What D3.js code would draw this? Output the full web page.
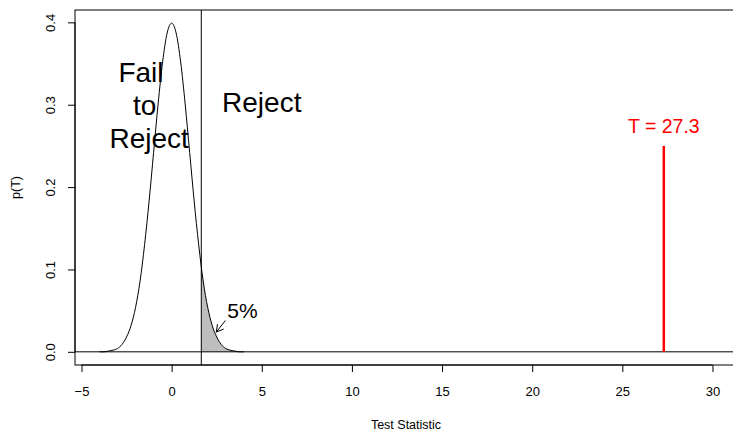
<!DOCTYPE html>
<html>
<head>
<meta charset="utf-8">
<script src="https://cdn.jsdelivr.net/npm/d3@7"></script>
<style>
  body { margin: 0; background: #fff; }
  svg { display: block; font-family: "Liberation Sans", Arial, Helvetica, sans-serif; }
</style>
</head>
<body>
<div id="chart"></div>
<script>
// density of the test statistic under H0
var densX = [-4, -3.75, -3.5, -3.25, -3, -2.75, -2.5, -2.25, -2, -1.75, -1.5, -1.25, -1, -0.75, -0.5, -0.25,
             0, 0.25, 0.5, 0.75, 1, 1.25, 1.5, 1.75, 2, 2.25, 2.5, 2.75, 3, 3.25, 3.5, 3.75, 4];
var densY = [0.000, 0.000, 0.001, 0.002, 0.004, 0.009, 0.018, 0.032, 0.054, 0.086, 0.130, 0.183, 0.242, 0.301, 0.352, 0.387,
             0.399, 0.387, 0.352, 0.301, 0.242, 0.183, 0.130, 0.086, 0.054, 0.032, 0.018, 0.009, 0.004, 0.002, 0.001, 0.000, 0.000];

var critValue = 1.645;     // 5% cut off
var critDensity = 0.103;   // curve height at the cut off
var testStat = 27.3;
var testStatHeight = 0.25;

var xTicks = [-5, 0, 5, 10, 15, 20, 25, 30];
var yTicks = [0, 0.1, 0.2, 0.3, 0.4];

var failLines = ["Fail", "to", "Reject"];
var failLineX = [-1.7, -1.5, -1.25];

var svgWidth = 733, svgHeight = 431;
var plot = { left: 75, top: 10, right: 737, bottom: 365 };

var svg = d3.select("#chart")
  .append("svg")
  .attr("width", svgWidth)
  .attr("height", svgHeight);

var x = d3.scaleLinear().domain([-5.36, 31.36]).range([plot.left, plot.right]);
var y = d3.scaleLinear().domain([-0.016, 0.415]).range([plot.bottom, plot.top]);

svg.append("clipPath").attr("id", "clip")
  .append("rect")
  .attr("x", plot.left).attr("y", plot.top)
  .attr("width", plot.right - plot.left).attr("height", plot.bottom - plot.top);

var g = svg.append("g").attr("clip-path", "url(#clip)");

var pts = densX.map(function(d, i) { return [d, densY[i]]; });

// shaded tail
var tail = [[critValue, critDensity]].concat(pts.filter(function(p) { return p[0] > critValue; }));
var area = d3.area()
  .x(function(d) { return x(d[0]); })
  .y0(y(0))
  .y1(function(d) { return y(d[1]); })
  .curve(d3.curveMonotoneX);

g.append("path")
  .datum(tail)
  .attr("d", area)
  .attr("fill", "#bebebe")
  .attr("stroke", "none");

// horizontal line at 0
g.append("line")
  .attr("x1", plot.left).attr("x2", plot.right)
  .attr("y1", y(0)).attr("y2", y(0))
  .attr("stroke", "#000").attr("stroke-width", 1);

// density curve
var line = d3.line()
  .x(function(d) { return x(d[0]); })
  .y(function(d) { return y(d[1]); })
  .curve(d3.curveMonotoneX);

g.append("path")
  .datum(pts)
  .attr("d", line)
  .attr("fill", "none")
  .attr("stroke", "#000")
  .attr("stroke-width", 1);

// critical value line
g.append("line")
  .attr("x1", x(critValue)).attr("x2", x(critValue))
  .attr("y1", plot.top).attr("y2", plot.bottom)
  .attr("stroke", "#000").attr("stroke-width", 1);

// observed statistic
g.append("line")
  .attr("x1", x(testStat)).attr("x2", x(testStat))
  .attr("y1", y(0)).attr("y2", y(testStatHeight))
  .attr("stroke", "red").attr("stroke-width", 2.5);

svg.append("text")
  .attr("x", x(testStat))
  .attr("y", y(0.266))
  .attr("text-anchor", "middle")
  .attr("fill", "red")
  .style("font-size", "19.5px")
  .text("T = " + testStat);

// region labels
svg.selectAll(".fail")
  .data(failLines)
  .enter().append("text")
  .attr("class", "fail")
  .attr("x", function(d, i) { return x(failLineX[i]); })
  .attr("y", function(d, i) { return y(0.3) + 10 + (i - 1) * 33; })
  .attr("text-anchor", "middle")
  .style("font-size", "28px")
  .text(function(d) { return d; });

svg.append("text")
  .attr("x", x(5))
  .attr("y", y(0.3) + 7)
  .attr("text-anchor", "middle")
  .style("font-size", "28px")
  .text("Reject");

// 5% label and arrow
svg.append("text")
  .attr("x", x(3.93))
  .attr("y", y(0.041))
  .attr("text-anchor", "middle")
  .style("font-size", "21px")
  .text("5%");

var ax0 = x(2.98), ay0 = y(0.038), ax1 = x(2.48), ay1 = y(0.024);
var ang = Math.atan2(ay1 - ay0, ax1 - ax0);
var hl = 8, ha = Math.PI / 6;
svg.append("path")
  .attr("d", "M" + ax0 + "," + ay0 + "L" + ax1 + "," + ay1 +
    "M" + (ax1 - hl * Math.cos(ang - ha)) + "," + (ay1 - hl * Math.sin(ang - ha)) +
    "L" + ax1 + "," + ay1 +
    "L" + (ax1 - hl * Math.cos(ang + ha)) + "," + (ay1 - hl * Math.sin(ang + ha)))
  .attr("fill", "none")
  .attr("stroke", "#000")
  .attr("stroke-width", 1);

// box
svg.append("rect")
  .attr("x", plot.left).attr("y", plot.top)
  .attr("width", plot.right - plot.left).attr("height", plot.bottom - plot.top)
  .attr("fill", "none").attr("stroke", "#000").attr("stroke-width", 1);

// axes
var xAxis = svg.append("g")
  .attr("transform", "translate(0," + plot.bottom + ")")
  .call(d3.axisBottom(x).tickValues(xTicks).tickSize(7).tickSizeOuter(0).tickPadding(15)
    .tickFormat(function(d) { return d < 0 ? "\u2212" + Math.abs(d) : d; }));
xAxis.select(".domain").attr("d", "M" + x(xTicks[0]) + ",0H" + x(xTicks[xTicks.length - 1]));
xAxis.selectAll("text").style("font-size", "13px").attr("fill", "#000");

var yAxis = svg.append("g")
  .attr("transform", "translate(" + plot.left + ",0)")
  .call(d3.axisLeft(y).tickValues(yTicks).tickSize(7).tickSizeOuter(0)
    .tickFormat(d3.format(".1f")));
yAxis.select(".domain").attr("d", "M0," + y(yTicks[0]) + "V" + y(yTicks[yTicks.length - 1]));
yAxis.selectAll("text")
  .attr("x", 0).attr("dy", 0)
  .attr("text-anchor", "middle")
  .attr("transform", "translate(-20,0) rotate(-90)")
  .style("font-size", "13px")
  .attr("fill", "#000");

svg.append("text")
  .attr("x", (plot.left + plot.right) / 2)
  .attr("y", 429)
  .attr("text-anchor", "middle")
  .style("font-size", "12.5px")
  .text("Test Statistic");

svg.append("text")
  .attr("transform", "translate(20," + ((plot.top + plot.bottom) / 2) + ") rotate(-90)")
  .attr("text-anchor", "middle")
  .style("font-size", "12.5px")
  .text("p(T)");
</script>
</body>
</html>
